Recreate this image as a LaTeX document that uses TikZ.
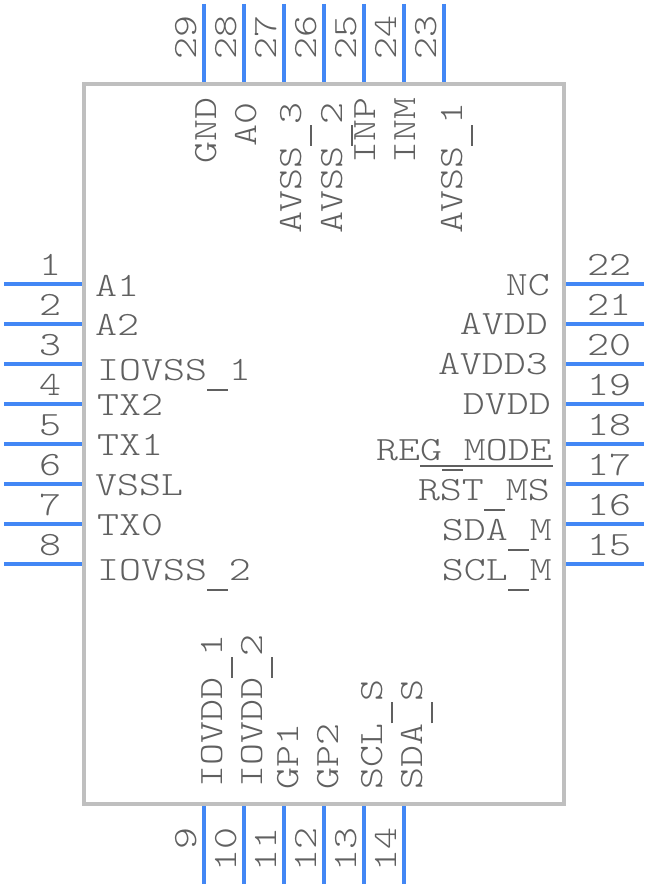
\documentclass[tikz,border=0pt]{standalone}
\usepackage{fontspec}
\setmainfont{Latin Modern Mono Light}[FakeStretch=1.23]
\definecolor{pinblue}{HTML}{4287F5}
\definecolor{bodygray}{HTML}{BFBFBF}
\definecolor{textgray}{HTML}{606060}
\newcommand{\lowbar}{\makebox[22pt][c]{\rule[-10.5pt]{21pt}{1.8pt}}}
\begin{document}
\begin{tikzpicture}[x=1pt,y=-1pt,
    body/.style={line width=4pt, bodygray},
    pin/.style={line width=4pt, pinblue},
    label/.style={inner sep=0pt, text=textgray, font=\fontsize{34}{34}\selectfont},
    overbar/.style={line width=2pt, textgray}]
    \useasboundingbox (0,0) rectangle (648,888);
    \def\lo{84}
    \def\hi{564}
    \def\bot{804}
    %% Body
    \draw[body] (\lo,\lo) rectangle (\hi,\bot);
    %% Pins
    \foreach \n in {1,...,8} {
        \pgfmathsetmacro{\py}{284+40*(\n-1)}
        \coordinate (la\n) at (4,\py);
        \coordinate (lb\n) at (82,\py);
        \draw[pin] (la\n) -- (lb\n);
        \node[label,anchor=base] (lnum\n) at (50,\py-9) {\n};
    }
    \foreach \n in {15,...,22} {
        \pgfmathsetmacro{\py}{564-40*(\n-15)}
        \coordinate (ra\n) at (566,\py);
        \coordinate (rb\n) at (644,\py);
        \draw[pin] (ra\n) -- (rb\n);
        \node[label,anchor=base] (rnum\n) at (609,\py-9) {\n};
    }
    \foreach \n in {23,...,29} {
        \pgfmathsetmacro{\px}{444-40*(\n-23)}
        \coordinate (ta\n) at (\px,4);
        \coordinate (tb\n) at (\px,82);
        \draw[pin] (ta\n) -- (tb\n);
        \node[label,anchor=base east,rotate=90] (tnum\n) at (\px-8,15) {\n};
    }
    \foreach \n in {9,...,14} {
        \pgfmathsetmacro{\px}{204+40*(\n-9)}
        \coordinate (ba\n) at (\px,806);
        \coordinate (bb\n) at (\px,884);
        \draw[pin] (ba\n) -- (bb\n);
        \node[label,anchor=base east,rotate=90] (bnum\n) at (\px-8,827) {\n};
    }
    %% Left names
    \foreach \s/\t/\x/\y in {a1/A1/95/296, a2/A2/95/335, iovss1/IOVSS\lowbar 1/97/380, tx2/TX2/97/415,
        tx1/TX1/97/455, vssl/VSSL/95/495, tx0/TX0/97/535, iovss2/IOVSS\lowbar 2/97/580}
        \node[label,anchor=base west] (\s) at (\x,\y) {\t};
    %% Right names
    \foreach \s/\t/\x/\y in {nc/NC/550/295, avdd/AVDD/548/334, avdd3/AVDD3/548/374, dvdd/DVDD/551/414,
        regmode/REG\lowbar MODE/552/460, rstms/RST\lowbar MS/550/500, sdam/SDA\lowbar M/552/540, sclm/SCL\lowbar M/552/580}
        \node[label,anchor=base east] (\s) at (\x,\y) {\t};
    %% Top names
    \foreach \s/\t/\x/\y in {gnd/GND/216/97, a0/A0/256/102, avss3/AVSS\lowbar 3/301/102, avss2/AVSS\lowbar 2/342/102,
        inp/INP/375/97, inm/INM/415/97, avss1/AVSS\lowbar 1/462/102}
        \node[label,anchor=base east,rotate=90] (\s) at (\x,\y) {\t};
    %% Bottom names
    \foreach \s/\t/\x/\y in {iovdd1/IOVDD\lowbar 1/222/788, iovdd2/IOVDD\lowbar 2/262/788, gp1/GP1/298/790,
        gp2/GP2/338/790, scls/SCL\lowbar S/382/790, sdas/SDA\lowbar S/422/790}
        \node[label,anchor=base west,rotate=90] (\s) at (\x,\y) {\t};
    %% Bar over the reset name
    \coordinate (barl) at (420,466);
    \coordinate (barr) at (553,466);
    \draw[overbar] (barl) -- (barr);
\end{tikzpicture}
\end{document}
